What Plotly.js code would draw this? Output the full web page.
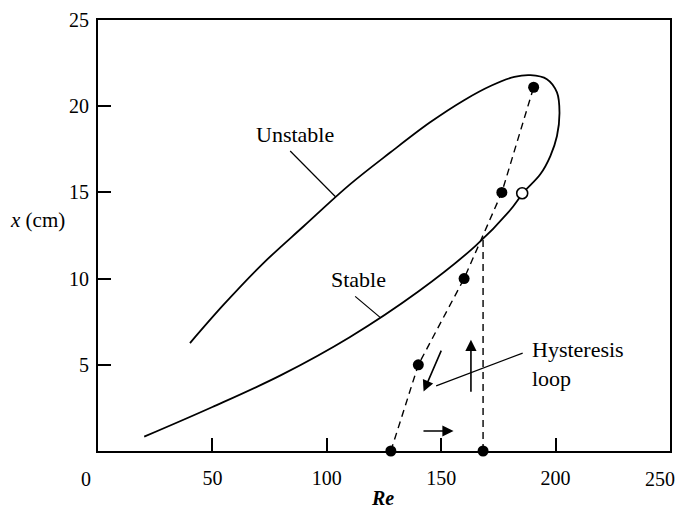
<!DOCTYPE html>
<html>
<head>
<meta charset="utf-8">
<script src="https://cdn.plot.ly/plotly-3.0.1.min.js"></script>
<style>html,body{margin:0;padding:0;background:#fff;}#chart{width:676px;height:512px;}</style>
</head>
<body>
<div id="chart"></div>
<script>
// Neutral curve: stable (lower) branch continuing round the nose into the unstable (upper) branch
const curveRe = [20.2, 50, 80, 110, 140, 165, 180, 186, 193.3, 197.7, 200.6, 201.7, 200.6, 196.2, 189, 182, 172, 160, 145, 127.7, 110, 90, 72.3, 55, 40.2];
const curveX  = [0.83, 2.55, 4.4, 6.6, 9.25, 11.9, 13.95, 15.0, 16.05, 17.11, 18.27, 19.63, 20.8, 21.57, 21.8, 21.7, 21.2, 20.35, 19.05, 17.31, 15.45, 13.05, 10.9, 8.5, 6.26];

// Measured points (filled) on the hysteresis path
const pathRe = [128, 140, 160, 176.5, 190.4];
const pathX  = [0, 5, 10, 15, 21.1];
// Jump line (vertical) from the axis up to the stable branch
const jumpRe = [168.3, 168.3];
const jumpX  = [0, 12.3];
const jumpPtRe = [168.3];
const jumpPtX  = [0];
// Open circle on the stable branch
const openRe = [185.4];
const openX  = [14.95];

const xTicks = [0, 50, 100, 150, 200, 250];
const yTicks = [5, 10, 15, 20, 25];

const F = 'Liberation Serif, Times New Roman, serif';

const traces = [
  {x: curveRe, y: curveX, mode: 'lines', line: {color: '#000', width: 1.8, shape: 'spline', smoothing: 1}, hoverinfo: 'skip'},
  {x: pathRe, y: pathX, mode: 'lines', line: {color: '#000', width: 1.4, dash: '7px,5px'}, hoverinfo: 'skip'},
  {x: jumpRe, y: jumpX, mode: 'lines', line: {color: '#000', width: 1.4, dash: '7px,5px'}, hoverinfo: 'skip'},
  {x: pathRe, y: pathX, mode: 'markers', marker: {color: '#000', size: 11}, cliponaxis: false, hoverinfo: 'skip'},
  {x: jumpPtRe, y: jumpPtX, mode: 'markers', marker: {color: '#000', size: 11}, cliponaxis: false, hoverinfo: 'skip'},
  {x: openRe, y: openX, mode: 'markers', marker: {color: '#fff', size: 11, line: {color: '#000', width: 1.6}}, hoverinfo: 'skip'}
];

function arrow(x0, y0, x1, y1) {
  return {x: x1, y: y1, ax: x0, ay: y0, xref: 'x', yref: 'y', axref: 'x', ayref: 'y',
    text: '', showarrow: true, arrowhead: 2, arrowsize: 1.4, arrowwidth: 1.6, arrowcolor: '#000'};
}
function label(txt, x, y, xa, extra) {
  return Object.assign({x: x, y: y, xref: 'x', yref: 'y', text: txt, showarrow: false,
    xanchor: xa, yanchor: 'middle', font: {family: F, size: 22, color: '#000'}}, extra || {});
}

const annotations = [
  arrow(150.3, 5.91, 142.3, 3.45),
  arrow(163.0, 3.35, 163.0, 6.45),
  arrow(141.6, 1.16, 155.4, 1.16),
  label('Unstable', 85.9, 18.35, 'center'),
  label('Stable', 113.7, 9.95, 'center'),
  label('Hysteresis<br>loop', 188.6, 5.05, 'left', {align: 'left'}),
  {x: 0, y: 0, xref: 'paper', yref: 'paper', text: '0', showarrow: false, xanchor: 'center', yanchor: 'top', xshift: -12, yshift: -15, font: {family: F, size: 20, color: '#000'}},
  {x: 1, y: 0, xref: 'paper', yref: 'paper', text: '250', showarrow: false, xanchor: 'center', yanchor: 'top', xshift: -10, yshift: -15, font: {family: F, size: 20, color: '#000'}},
  {x: 0, y: 0.536, xref: 'paper', yref: 'paper', text: '<i>x</i> (cm)', showarrow: false, xanchor: 'center', yanchor: 'middle', xshift: -61, font: {family: F, size: 21, color: '#000'}},
  {x: 0.497, y: 0, xref: 'paper', yref: 'paper', text: '<b><i>Re</i></b>', showarrow: false, xanchor: 'center', yanchor: 'middle', yshift: -47, font: {family: F, size: 20, color: '#000'}}
];

const shapes = [
  {type: 'line', xref: 'x', yref: 'y', x0: 84.0, y0: 17.4, x1: 103.8, y1: 14.75, line: {color: '#000', width: 1.2}},
  {type: 'line', xref: 'x', yref: 'y', x0: 112.4, y0: 8.97, x1: 123.3, y1: 7.75, line: {color: '#000', width: 1.2}},
  {type: 'line', xref: 'x', yref: 'y', x0: 185.6, y0: 5.68, x1: 147.8, y1: 3.78, line: {color: '#000', width: 1.2}}
];

const layout = {
  width: 676, height: 512,
  margin: {l: 98, r: 6, t: 20, b: 61},
  paper_bgcolor: '#fff', plot_bgcolor: '#fff',
  showlegend: false,
  font: {family: F, size: 20, color: '#000'},
  xaxis: {range: [0, 250], tickvals: xTicks.slice(1, -1), ticktext: xTicks.slice(1, -1).map(String),
    ticks: 'inside', ticklen: 13, tickwidth: 2, tickcolor: '#000', showgrid: false, zeroline: false,
    showline: true, linewidth: 2, linecolor: '#000', mirror: true, ticklabelstandoff: 8,
    tickfont: {family: F, size: 20, color: '#000'}},
  yaxis: {range: [0, 25], tickvals: yTicks, ticktext: yTicks.map(String),
    ticks: 'inside', ticklen: 13, tickwidth: 2, tickcolor: '#000', showgrid: false, zeroline: false,
    showline: true, linewidth: 2, linecolor: '#000', mirror: true, ticklabelstandoff: 3,
    tickfont: {family: F, size: 20, color: '#000'}},
  annotations: annotations,
  shapes: shapes
};

Plotly.newPlot('chart', traces, layout, {staticPlot: true, displayModeBar: false});
</script>
</body>
</html>
